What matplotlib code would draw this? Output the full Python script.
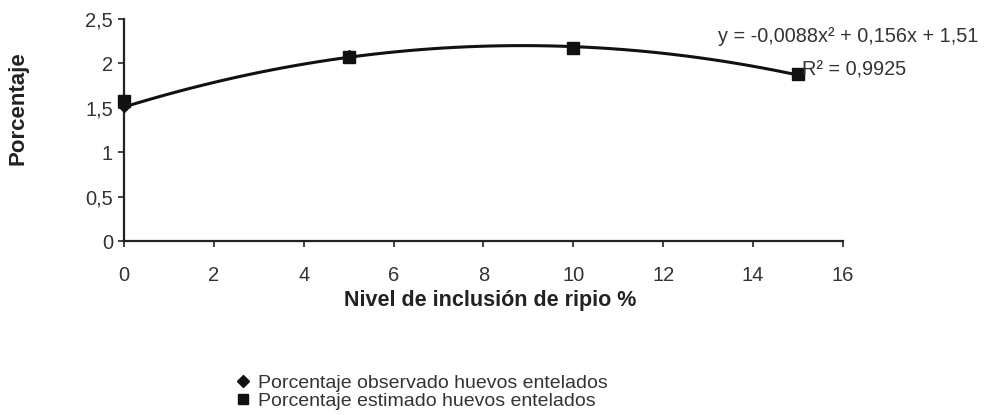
import matplotlib
matplotlib.use("Agg")
import matplotlib.pyplot as plt
from matplotlib.lines import Line2D
import numpy as np

plt.rcParams['font.family'] = ['Liberation Sans', 'DejaVu Sans']

# datos
nivel = [0, 5, 10, 15]
observado = [1.52, 2.08, 2.18, 1.88]
estimado = [1.58, 2.07, 2.17, 1.88]
coef = [-0.0088, 0.156, 1.51]   # y = -0,0088x2 + 0,156x + 1,51

xticks = [0, 2, 4, 6, 8, 10, 12, 14, 16]
yticks = [0, 0.5, 1, 1.5, 2, 2.5]
ytick_labels = ['0', '0,5', '1', '1,5', '2', '2,5']

fig = plt.figure(figsize=(9.86, 4.15), dpi=100)
ax = fig.add_axes([0.1258, 0.419, 0.729, 0.535])

xs = np.linspace(min(nivel), max(nivel), 60)
ax.plot(xs, np.polyval(coef, xs), color='#111111', linewidth=2.2, zorder=2)
ax.plot(nivel, observado, linestyle='none', marker='D', markersize=6.5,
        color='#111111', zorder=3, clip_on=False)
ax.plot(nivel, estimado, linestyle='none', marker='s', markersize=8,
        color='#111111', zorder=4, clip_on=False)

ax.set_xlim(0, 16)
ax.set_ylim(0, 2.5)
ax.set_xticks(xticks)
ax.set_xticklabels([str(t) for t in xticks])
ax.set_yticks(yticks)
ax.set_yticklabels(ytick_labels)
for s in ['top', 'right']:
    ax.spines[s].set_visible(False)
for s in ['left', 'bottom']:
    ax.spines[s].set_linewidth(1.6)
    ax.spines[s].set_color('#222222')
ax.tick_params(direction='out', length=4, width=1.2, colors='#222222',
               labelsize=14.5, labelcolor='#333333')
ax.tick_params(axis='x', pad=14)
ax.tick_params(axis='y', pad=4)

fig.text(490 / 986, 1 - 300 / 415, 'Nivel de inclusión de ripio %', fontsize=15.5,
         fontweight='bold', color='#222222', ha='center', va='center')
fig.text(18 / 986, 1 - 108 / 415, 'Porcentaje', fontsize=16, fontweight='bold',
         color='#222222', ha='center', va='center', rotation=90)

fig.text(718 / 986, 1 - 37 / 415, 'y = -0,0088x² + 0,156x + 1,51', fontsize=14.3,
         color='#333333', va='center')
fig.text(802 / 986, 1 - 70 / 415, 'R² = 0,9925', fontsize=14.3, color='#333333',
         va='center')

handles = [Line2D([], [], linestyle='none', marker='D', markersize=6, color='#111111'),
           Line2D([], [], linestyle='none', marker='s', markersize=7.5, color='#111111')]
fig.legend(handles, ['Porcentaje observado huevos entelados',
                     'Porcentaje estimado huevos entelados'],
           loc='upper left', bbox_to_anchor=(238 / 986, 1 - 374 / 415), frameon=False,
           fontsize=14, handlelength=0.55, handletextpad=0.5, labelspacing=0.05,
           borderpad=0, borderaxespad=0, labelcolor='#333333')

fig.savefig('out.png', dpi=100)
